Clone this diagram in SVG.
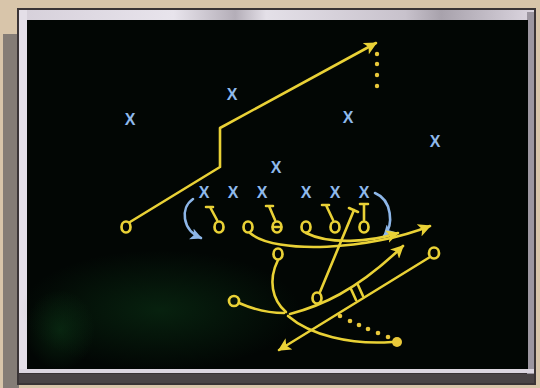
<svg xmlns="http://www.w3.org/2000/svg" width="540" height="388" viewBox="0 0 540 388">
<defs>
<style>
.y{fill:none;stroke:#e9d136;stroke-width:2.6;stroke-linecap:round;stroke-linejoin:round}
.b{fill:none;stroke:#8db6e8;stroke-width:2.6;stroke-linecap:round}
.o{fill:none;stroke:#e9d136;stroke-width:2.7}
.x{font-family:"Liberation Sans",sans-serif;font-weight:bold;font-size:16px;fill:#8fb9ec;text-anchor:middle}
.dot{fill:#e9c83a}
</style>
<marker id="ya" viewBox="0 0 10 10" refX="9" refY="5" markerWidth="5" markerHeight="5" orient="auto">
<path d="M0,0 L10,5 L0,10 L2.5,5 Z" fill="#e9d136"/>
</marker>
<marker id="ba" viewBox="0 0 10 10" refX="9" refY="5" markerWidth="4.5" markerHeight="4.5" orient="auto">
<path d="M0,0 L10,5 L0,10 L2.5,5 Z" fill="#8db6e8"/>
</marker>
<radialGradient id="haze" cx="0.5" cy="0.5" r="0.5">
<stop offset="0" stop-color="#0f4a1e" stop-opacity="0.4"/>
<stop offset="1" stop-color="#0f4a1e" stop-opacity="0"/>
</radialGradient>
<linearGradient id="topf" x1="0" y1="0" x2="1" y2="0">
<stop offset="0" stop-color="#d6d0da"/>
<stop offset="0.3" stop-color="#e8e4ec"/>
<stop offset="0.42" stop-color="#b4aeb8"/>
<stop offset="0.48" stop-color="#e4e0e8"/>
<stop offset="0.75" stop-color="#c8c2cc"/>
<stop offset="0.82" stop-color="#a8a2ac"/>
<stop offset="1" stop-color="#dcd6e0"/>
</linearGradient>
</defs>
<!-- wall -->
<rect x="0" y="0" width="540" height="388" fill="#d8c5aa"/>
<rect x="3" y="34" width="16" height="354" fill="#847c76"/>
<!-- frame -->
<rect x="17" y="8" width="519" height="377" fill="#3a3436"/>
<rect x="19" y="10" width="515" height="10" fill="url(#topf)"/>
<rect x="19" y="10" width="8" height="362" fill="#e4dfe8"/>
<rect x="527" y="12" width="7" height="362" fill="#9c96a0"/>
<rect x="19" y="369" width="515" height="4" fill="#dcd6e0"/>
<rect x="19" y="374" width="515" height="9" fill="#4a4446"/>
<!-- board -->
<rect x="27" y="20" width="501" height="349" fill="#020604"/>
<ellipse cx="160" cy="310" rx="140" ry="60" fill="url(#haze)"/>
<ellipse cx="60" cy="330" rx="35" ry="40" fill="url(#haze)"/>

<!-- defense -->
<g id="defense">
<text class="x" x="130" y="125">X</text>
<text class="x" x="232" y="100">X</text>
<text class="x" x="348" y="123">X</text>
<text class="x" x="435" y="147">X</text>
<text class="x" x="276" y="173">X</text>
<text class="x" x="204" y="198">X</text>
<text class="x" x="233" y="198">X</text>
<text class="x" x="262" y="198">X</text>
<text class="x" x="306" y="198">X</text>
<text class="x" x="335" y="198">X</text>
<text class="x" x="364" y="198">X</text>
</g>

<!-- offense -->
<g id="offense">
<ellipse class="o" cx="126" cy="227" rx="4.5" ry="5.5"/>
<ellipse class="o" cx="219" cy="227" rx="4.5" ry="5.5"/>
<ellipse class="o" cx="248" cy="227" rx="4.5" ry="5.5"/>
<ellipse class="o" cx="277" cy="227" rx="4.5" ry="5.5"/>
<line class="y" x1="273" y1="227" x2="281" y2="227" stroke-width="2"/>
<ellipse class="o" cx="306" cy="227" rx="4.5" ry="5.5"/>
<ellipse class="o" cx="335" cy="227" rx="4.5" ry="5.5"/>
<ellipse class="o" cx="364" cy="227" rx="4.5" ry="5.5"/>
<ellipse class="o" cx="278" cy="254" rx="4.5" ry="5.5"/>
<ellipse class="o" cx="234" cy="301" rx="5" ry="5"/>
<ellipse class="o" cx="317" cy="298" rx="4.5" ry="5.5"/>
<ellipse class="o" cx="434" cy="253" rx="5" ry="5.5"/>
<circle class="dot" cx="397" cy="342" r="5"/>
</g>

<!-- routes -->
<g id="routes">
<polyline class="y" points="130,222 220,167 220,128 376,43" marker-end="url(#ya)"/>
<g class="dot">
<circle cx="377" cy="54" r="2.2"/><circle cx="377" cy="64" r="2.2"/><circle cx="377" cy="75" r="2.2"/><circle cx="377" cy="86" r="2.2"/>
</g>
<!-- blocks -->
<path class="y" d="M206,207 H213 M210,207 L217,220"/>
<path class="y" d="M266,206 H273 M269,206 L275,220"/>
<path class="y" d="M322,205 H329 M326,205 L333,220"/>
<path class="y" d="M360,204 H368 M364,204 V220"/>
<!-- blue arcs -->
<path class="b" d="M193,199 C180,208 182,230 201,238" marker-end="url(#ba)"/>
<path class="b" d="M375,193 C392,200 394,225 384,236" marker-end="url(#ba)"/>
<!-- sweep curves -->
<path class="y" d="M250,233 C275,255 370,250 430,226" marker-end="url(#ya)"/>
<path class="y" d="M306,233 C330,245 370,242 398,233" marker-end="url(#ya)"/>
<!-- vertical route from back -->
<path class="y" d="M320,292 L354,210 M349,208 L358,212"/>
<!-- backfield -->
<path class="y" d="M278,260 C268,280 272,300 286,312"/>
<path class="y" d="M239,303 C255,310 270,313 284,313"/>
<path class="y" d="M290,314 C320,306 355,292 403,246" marker-end="url(#ya)"/>
<path class="y" d="M288,316 C310,335 350,345 392,342"/>
<line class="y" x1="430" y1="257" x2="279" y2="350" marker-end="url(#ya)"/>
<path class="y" d="M351,289 L356,300 M358,285 L363,296" stroke-width="2.2"/>
<g class="dot">
<circle cx="340" cy="316" r="2.3"/><circle cx="350" cy="321" r="2.3"/><circle cx="359" cy="325" r="2.3"/><circle cx="368" cy="329" r="2.3"/><circle cx="378" cy="333" r="2.3"/><circle cx="388" cy="337" r="2.3"/>
</g>
</g>
</svg>
